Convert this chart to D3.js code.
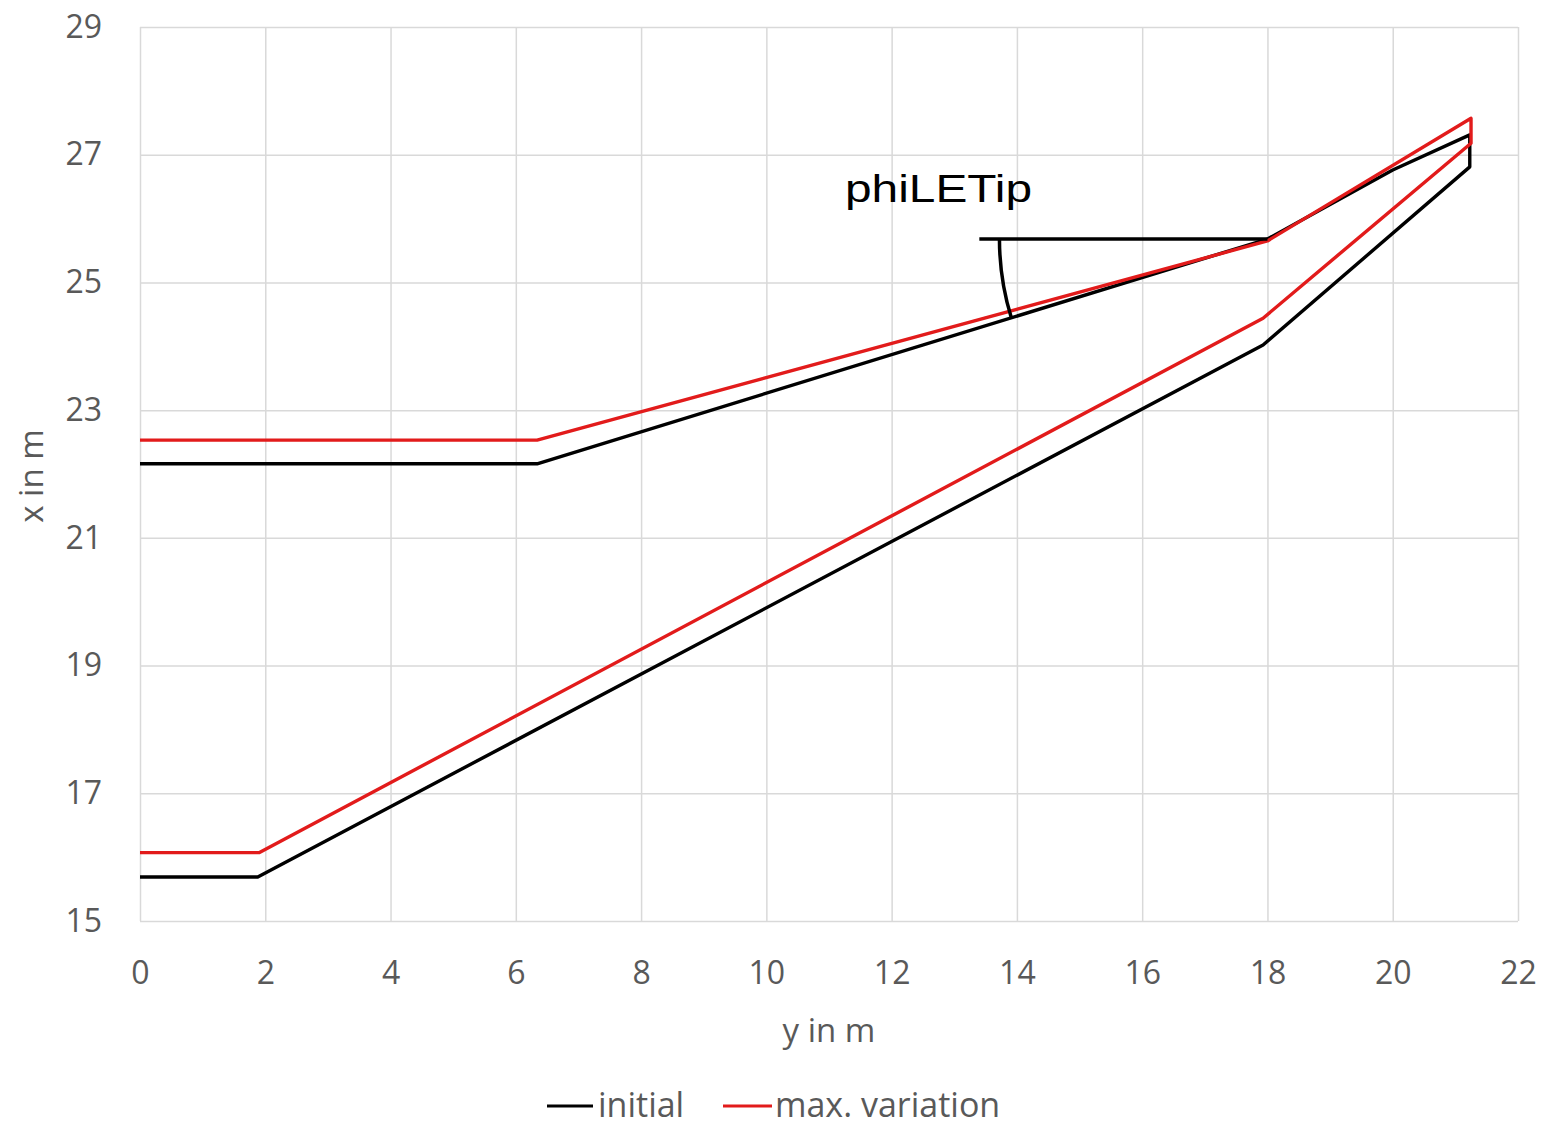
<!DOCTYPE html>
<html>
<head>
<meta charset="utf-8">
<script src="https://cdn.jsdelivr.net/npm/d3@7"></script>
<style>
  html, body { margin: 0; padding: 0; background: #ffffff; }
  svg { display: block; }
</style>
</head>
<body>
<svg id="chart" width="1559" height="1127"></svg>
<script>
// Profile outlines: horizontal coordinate y (m) and vertical coordinate x (m)
const initialY   = [0, 6.34, 18, 20, 21.23, 21.23, 17.93, 1.88, 0];
const initialX   = [22.16, 22.16, 25.68, 26.76, 27.31, 26.81, 24.02, 15.69, 15.69];
const variationY = [0, 6.34, 18, 21.25, 21.25, 17.93, 1.9, 0];
const variationX = [22.53, 22.53, 25.65, 27.57, 27.18, 24.44, 16.07, 16.07];

// Axis ticks
const xTicks = [0, 2, 4, 6, 8, 10, 12, 14, 16, 18, 20, 22];
const yTicks = [15, 17, 19, 21, 23, 25, 27, 29];

// Angle annotation: reference line from this y to the leading-edge tip vertex
const angleRefStartY = 13.4;
const angleVertex = [18, 25.68];
const angleLegEnd = [6.34, 22.16];
const angleLabel = "phiLETip";

const seriesNames = ["initial", "max. variation"];
const seriesColors = ["#000000", "#e21b1b"];

const svg = d3.select("#chart");
const plotLeft = 140, plotRight = 1518, plotTop = 27, plotBottom = 921;
const x = d3.scaleLinear().domain([0, 22]).range([plotLeft, plotRight]);
const y = d3.scaleLinear().domain([15, 29]).range([plotBottom, plotTop]);

const gridColor = "#d9d9d9";
const textColor = "#595959";
const tickFont = "'Open Sans', 'DejaVu Sans', sans-serif";

svg.append("rect").attr("width", 1559).attr("height", 1127).attr("fill", "#fff");

// Vertical gridlines + x tick labels
const gx = svg.append("g")
  .attr("transform", `translate(0,${plotBottom})`)
  .call(d3.axisBottom(x).tickValues(xTicks).tickSize(-(plotBottom - plotTop)).tickPadding(40).tickFormat(d3.format("d")));
gx.select(".domain").remove();
gx.selectAll(".tick line").attr("stroke", gridColor).attr("stroke-width", 1.5);
gx.selectAll(".tick text").attr("fill", textColor).style("font-family", tickFont).style("font-size", "32px");

// Horizontal gridlines + y tick labels
const gy = svg.append("g")
  .attr("transform", `translate(${plotLeft},0)`)
  .call(d3.axisLeft(y).tickValues(yTicks).tickSize(-(plotRight - plotLeft)).tickPadding(38).tickFormat(d3.format("d")));
gy.select(".domain").remove();
gy.selectAll(".tick line").attr("stroke", gridColor).attr("stroke-width", 1.5);
gy.selectAll(".tick text").attr("fill", textColor).style("font-family", tickFont).style("font-size", "32px");

// Series outlines
const line = d3.line().x(d => x(d[0])).y(d => y(d[1]));
const series = [
  d3.zip(initialY, initialX),
  d3.zip(variationY, variationX)
];
series.forEach((pts, i) => {
  svg.append("path")
    .attr("d", line(pts))
    .attr("fill", "none")
    .attr("stroke", seriesColors[i])
    .attr("stroke-width", 3.4)
    .attr("stroke-linejoin", "round");
});

// Angle annotation
const vx = x(angleVertex[0]), vy = y(angleVertex[1]);
svg.append("line")
  .attr("x1", x(angleRefStartY)).attr("y1", vy)
  .attr("x2", vx).attr("y2", vy)
  .attr("stroke", "#000").attr("stroke-width", 3.5);
const r = 268;
const dx = x(angleLegEnd[0]) - vx, dy = y(angleLegEnd[1]) - vy;
const len = Math.hypot(dx, dy);
const ex = vx + dx / len * r, ey = vy + dy / len * r;
svg.append("path")
  .attr("d", `M${vx - r},${vy} A${r},${r} 0 0 0 ${ex},${ey}`)
  .attr("fill", "none").attr("stroke", "#000").attr("stroke-width", 3.5);
svg.append("text")
  .attr("x", 845).attr("y", 202)
  .attr("textLength", 187).attr("lengthAdjust", "spacingAndGlyphs")
  .style("font-family", "'Liberation Sans', Arial, sans-serif")
  .style("font-size", "38px")
  .attr("fill", "#000")
  .text(angleLabel);

// Axis titles
svg.append("text")
  .attr("x", (plotLeft + plotRight) / 2).attr("y", 1042)
  .attr("text-anchor", "middle")
  .attr("fill", textColor).style("font-family", tickFont).style("font-size", "33px")
  .text("y in m");
svg.append("text")
  .attr("transform", "translate(43,476) rotate(-90)")
  .attr("text-anchor", "middle")
  .attr("fill", textColor).style("font-family", tickFont).style("font-size", "33px")
  .text("x in m");

// Legend
const legendItems = [
  { x1: 547, x2: 593, tx: 598 },
  { x1: 723, x2: 772, tx: 775 }
];
legendItems.forEach((it, i) => {
  svg.append("line")
    .attr("x1", it.x1).attr("x2", it.x2).attr("y1", 1106).attr("y2", 1106)
    .attr("stroke", seriesColors[i]).attr("stroke-width", 3);
  svg.append("text")
    .attr("x", it.tx).attr("y", 1117)
    .attr("fill", textColor).style("font-family", tickFont).style("font-size", "34px")
    .text(seriesNames[i]);
});
</script>
</body>
</html>
